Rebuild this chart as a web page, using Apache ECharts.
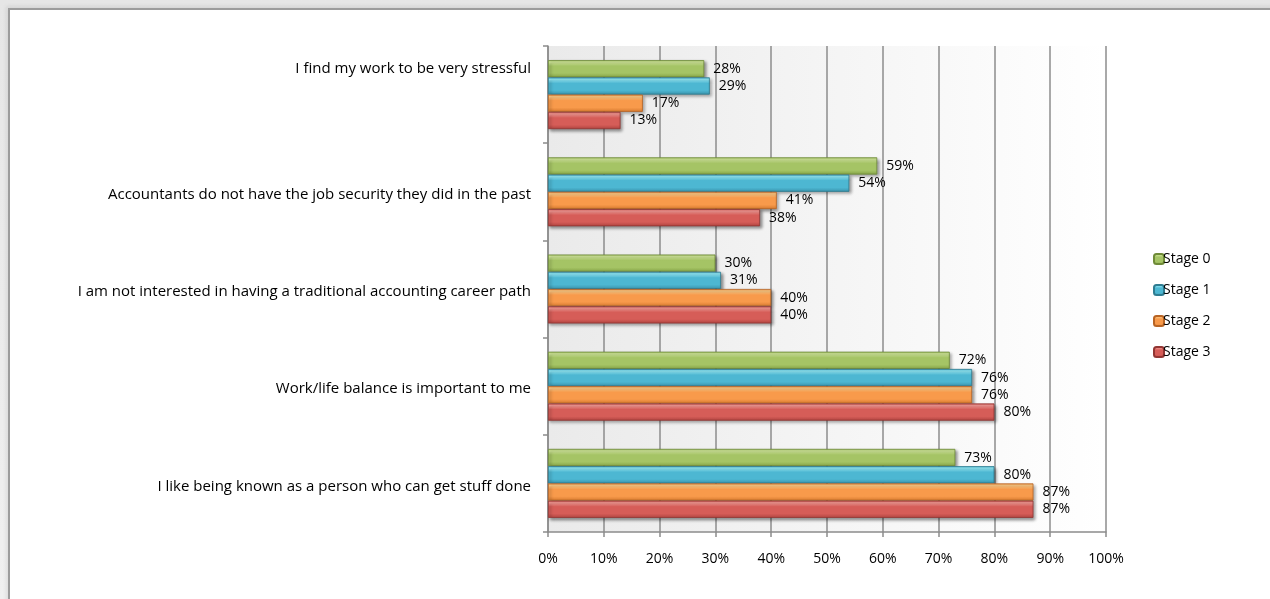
<!DOCTYPE html>
<html>
<head>
<meta charset="utf-8">
<script src="https://cdn.jsdelivr.net/npm/echarts@6/dist/echarts.min.js"></script>
<style>
  html, body { margin: 0; padding: 0; width: 1270px; height: 599px; overflow: hidden;
    background: linear-gradient(#e6e6e6, #f0f0f0); }
  #frame { position: absolute; left: 8px; top: 8px; width: 1300px; height: 700px;
    background: #ffffff; border-top: 2px solid #9c9c9c; border-left: 2px solid #9c9c9c;
    box-shadow: -2px -2px 4px rgba(0,0,0,0.08); }
  #chart { position: absolute; left: 0; top: 0; width: 1270px; height: 599px; }
</style>
</head>
<body>
<div id="frame"></div>
<div id="chart"></div>
<script>
// Survey statements (top to bottom)
const categories = [
  'I find my work to be very stressful',
  'Accountants do not have the job security they did in the past',
  'I am not interested in having a traditional accounting career path',
  'Work/life balance is important to me',
  'I like being known as a person who can get stuff done'
];
const seriesNames = ['Stage 0', 'Stage 1', 'Stage 2', 'Stage 3'];
// Percent agreeing, per stage
const stage0 = [28, 59, 30, 72, 73];
const stage1 = [29, 54, 31, 76, 80];
const stage2 = [17, 41, 40, 76, 87];
const stage3 = [13, 38, 40, 80, 87];
const xTicks = [0, 10, 20, 30, 40, 50, 60, 70, 80, 90, 100];

// Bevelled bar fills: highlight, base, shade, border
const palettes = [
  ['#d2e99a', '#a5c465', '#86a547', '#6f8b38'],
  ['#93ecfa', '#4db7d2', '#3a94ad', '#2f7c91'],
  ['#ffcb85', '#f89a4b', '#d67a2f', '#b86424'],
  ['#f79a95', '#d65d58', '#b04440', '#923633']
];

function bevel(p) {
  return {
    type: 'linear', x: 0, y: 0, x2: 0, y2: 1,
    colorStops: [
      { offset: 0, color: p[1] },
      { offset: 0.12, color: p[0] },
      { offset: 0.35, color: p[1] },
      { offset: 0.75, color: p[1] },
      { offset: 1, color: p[2] }
    ]
  };
}

const values = [stage0, stage1, stage2, stage3];
const font = '"Open Sans", "Noto Sans", sans-serif';

const chart = echarts.init(document.getElementById('chart'));
chart.setOption({
  backgroundColor: 'transparent',
  animation: false,
  textStyle: { fontFamily: font },
  grid: {
    left: 548, right: 164, top: 46, bottom: 67,
    show: true, borderWidth: 0,
    backgroundColor: {
      type: 'linear', x: 0, y: 0, x2: 1, y2: 0,
      colorStops: [{ offset: 0, color: '#eaeaea' }, { offset: 1, color: '#ffffff' }]
    }
  },
  legend: {
    orient: 'vertical', left: 1148, top: 247,
    itemWidth: 10, itemHeight: 10, itemGap: 17,
    data: seriesNames,
    textStyle: { fontFamily: font, fontSize: 14, color: '#000', padding: [0, 0, 0, -6] }
  },
  xAxis: {
    type: 'value', min: 0, max: 100, interval: 10,
    axisLine: { show: true, lineStyle: { color: '#8c8c8c', width: 1.5 } },
    axisTick: { show: true, length: 5, lineStyle: { color: '#8c8c8c', width: 1.5 } },
    axisLabel: { formatter: '{value}%', color: '#000', fontSize: 14, margin: 20, fontFamily: font,
      customValues: xTicks },
    splitLine: { show: true, lineStyle: { color: '#8c8c8c', width: 1.5 } }
  },
  yAxis: {
    type: 'category', inverse: true, data: categories,
    axisLine: { show: true, lineStyle: { color: '#8c8c8c', width: 1.5 } },
    axisTick: { show: true, length: 5, lineStyle: { color: '#8c8c8c', width: 1.5 } },
    axisLabel: {
      color: '#000', fontSize: 15, margin: 17, fontFamily: font,
      // the first statement sits level with its top bar
      formatter: (v, i) => (i === 0 ? '{top|' + v + '}' : '{std|' + v + '}'),
      rich: {
        top: { fontSize: 15, fontFamily: font, color: '#000', padding: [0, 0, 52, 0] },
        std: { fontSize: 15, fontFamily: font, color: '#000', padding: [6, 0, 0, 0] }
      }
    }
  },
  series: seriesNames.map((name, i) => ({
    name: name,
    type: 'bar',
    data: values[i],
    barGap: '0%',
    barCategoryGap: '29%',
    itemStyle: {
      color: bevel(palettes[i]),
      borderColor: palettes[i][3],
      borderWidth: 0.8,
      shadowColor: 'rgba(0,0,0,0.4)',
      shadowBlur: 3,
      shadowOffsetX: 2,
      shadowOffsetY: 2
    },
    label: {
      show: true, position: 'right', distance: 9,
      formatter: '{c}%', color: '#000', fontSize: 14, fontFamily: font
    }
  }))
});
</script>
</body>
</html>
